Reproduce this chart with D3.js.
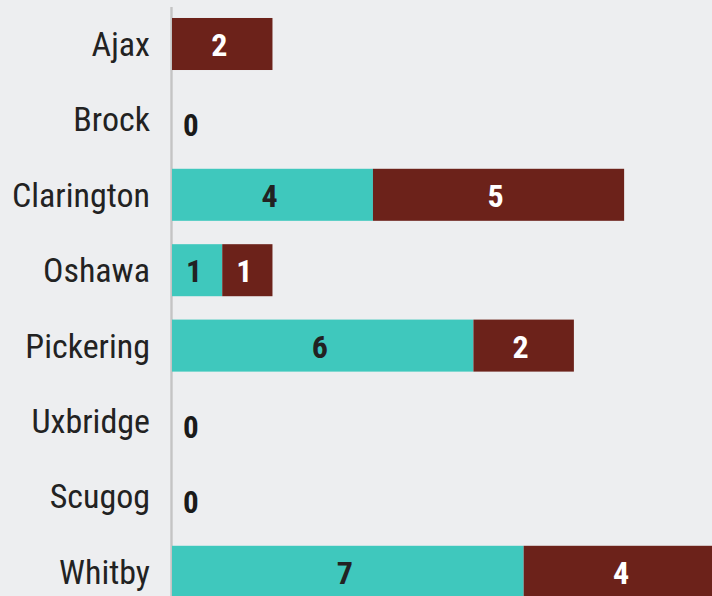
<!DOCTYPE html>
<html><head><meta charset="utf-8">
<script src="https://cdn.jsdelivr.net/npm/d3@7"></script>
<style>
html,body{margin:0;padding:0;background:#edeef0;overflow:hidden;}
svg{display:block;}
</style></head>
<body>
<svg id="chart" width="712" height="596"></svg>
<script>
const categories = ["Ajax","Brock","Clarington","Oshawa","Pickering","Uxbridge","Scugog","Whitby"];
const seriesA = [0,0,4,1,6,0,0,7];   // teal
const seriesB = [2,0,5,1,2,0,0,4];   // dark red
const seriesKeys = ["a","b"];
const seriesColors = ["#3fc8bd","#6c221a"];
const labelColors = ["#222222","#ffffff"];

const W = 712, H = 596;
const svg = d3.select("#chart");
svg.append("rect").attr("width",W).attr("height",H).attr("fill","#edeef0");

const rows = categories.map((c,i)=>({cat:c, a:seriesA[i], b:seriesB[i]}));
const x = d3.scaleLinear().domain([0,11]).range([172,724.6]);
const y = d3.scaleBand().domain(categories).range([6.3,609.5]).paddingInner(0.31).paddingOuter(0.155);

// axis line
svg.append("line").attr("x1",171.5).attr("x2",171.5).attr("y1",7).attr("y2",H)
  .attr("stroke","#c4c4c4").attr("stroke-width",2.4);

const stack = d3.stack().keys(seriesKeys)(rows);
const font = "'Roboto Condensed', Roboto, sans-serif";

stack.forEach((layer,li)=>{
  const g = svg.append("g");
  g.selectAll("rect").data(layer.filter(d=>d[1]>d[0])).join("rect")
    .attr("x",d=>x(d[0])).attr("width",d=>x(d[1])-x(d[0]))
    .attr("y",d=>y(d.data.cat)).attr("height",y.bandwidth())
    .attr("fill",seriesColors[li]);
  g.selectAll("text").data(layer.filter(d=>d[1]>d[0])).join("text")
    .attr("transform",d=>`translate(${(x(d[0])+x(d[1]))/2 - 3},${y(d.data.cat)+y.bandwidth()/2+12})`)
    .attr("text-anchor","middle")
    .attr("font-family",font).attr("font-weight",700).attr("font-size",32)
    .attr("fill",labelColors[li])
    .text(d=>d.data[seriesKeys[li]]);
});

// zero labels
svg.append("g").selectAll("text").data(rows.filter(d=>d.a+d.b===0)).join("text")
  .attr("transform",d=>`translate(${x(0)+11},${y(d.cat)+y.bandwidth()/2+17})`)
  .attr("font-family",font).attr("font-weight",700).attr("font-size",31)
  .attr("fill","#1a1a1a").text("0");

// category labels
svg.append("g").selectAll("text").data(categories).join("text")
  .attr("transform",d=>`translate(150,${y(d)+y.bandwidth()/2+12})`)
  .attr("text-anchor","end")
  .attr("font-family",font).attr("font-weight",400).attr("font-size",34)
  .attr("fill","#222222").text(d=>d);
</script>
</body></html>
